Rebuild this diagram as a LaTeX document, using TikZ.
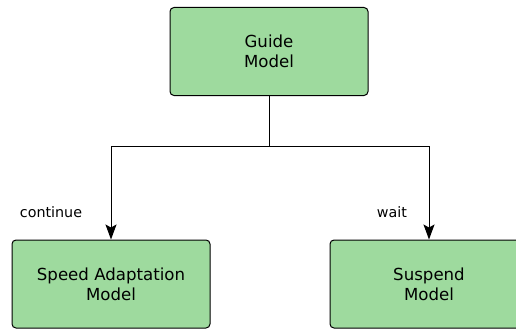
\documentclass[tikz,border=0pt]{standalone}
\usepackage{fontspec}
\setmainfont{DejaVu Sans}
\usetikzlibrary{arrows.meta,shapes}
\definecolor{boxgreen}{RGB}{158,218,158}

\tikzset{
model/.style={draw,line width=1pt,rounded corners=4pt,fill=boxgreen,minimum width=198pt,minimum height=88pt,align=center,font=\fontsize{16.6}{20}\selectfont},
flow/.style={-{Stealth[length=15pt,width=11pt,inset=3pt]},line width=1pt},
cond/.style={font=\fontsize{14.3}{17}\selectfont}
}

\begin{document}
\begin{tikzpicture}[x=1pt,y=-1pt]
\useasboundingbox (0,0) rectangle (516,329);
\clip (0,0) rectangle (516,329);
\node[model] (guide) at (269,51.5) {Guide\\Model};
\node[model] (speed) at (111,284) {Speed Adaptation\\Model};
\node[model] (suspend) at (429,284) {Suspend\\Model};
\coordinate (bus) at (269,146);
\node[cond] (cont) at (51,212) {continue};
\node[cond] (wait) at (392,212) {wait};
\draw[line width=1pt] (guide.south)--(bus);
\draw[flow] (bus)-|(speed.north);
\draw[flow] (bus)-|(suspend.north);
\end{tikzpicture}
\end{document}
